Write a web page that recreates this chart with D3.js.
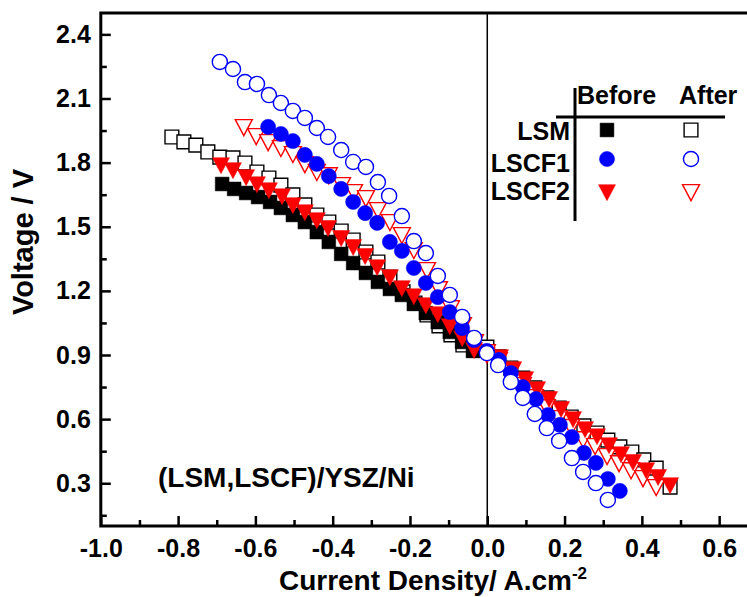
<!DOCTYPE html>
<html>
<head>
<meta charset="utf-8">
<script src="https://cdn.jsdelivr.net/npm/d3@7"></script>
<style>
  body { margin: 0; background: #fff; }
  text { font-family: "Liberation Sans", Arial, sans-serif; font-weight: bold; }
</style>
</head>
<body>
<div id="chart"></div>
<script>
// current density (A/cm2), voltage (V)
var lsmBefore = [[-0.686,1.700],[-0.655,1.677],[-0.624,1.658],[-0.593,1.639],[-0.562,1.616],[-0.534,1.588],
  [-0.503,1.555],[-0.472,1.522],[-0.441,1.475],[-0.410,1.429],[-0.378,1.373],[-0.347,1.330],[-0.314,1.284],
  [-0.283,1.242],[-0.252,1.209],[-0.221,1.181],[-0.190,1.139],[-0.159,1.096],[-0.128,1.054],[-0.097,1.008],
  [-0.065,0.961],[-0.037,0.919]];
var lsmAfter = [[-0.816,1.920],[-0.785,1.897],[-0.754,1.882],[-0.723,1.850],[-0.692,1.826],[-0.658,1.822],
  [-0.627,1.798],[-0.596,1.756],[-0.565,1.728],[-0.534,1.695],[-0.503,1.649],[-0.472,1.602],[-0.441,1.555],
  [-0.410,1.522],[-0.378,1.480],[-0.347,1.438],[-0.314,1.382],[-0.283,1.335],[-0.252,1.265],[-0.218,1.195],
  [-0.187,1.143],[-0.156,1.087],[-0.125,1.036],[-0.094,0.994],[-0.063,0.947],[-0.034,0.923],[-0.001,0.937],
  [0.030,0.891],[0.061,0.839],[0.092,0.792],[0.123,0.746],[0.154,0.699],[0.186,0.652],[0.217,0.610],
  [0.250,0.568],[0.284,0.535],[0.312,0.502],[0.343,0.470],[0.374,0.446],[0.405,0.409],[0.437,0.371],[0.473,0.282]];
var lscf1Before = [[-0.567,1.967],[-0.534,1.934],[-0.503,1.901],[-0.472,1.836],[-0.441,1.794],[-0.410,1.737],
  [-0.378,1.677],[-0.347,1.616],[-0.316,1.564],[-0.285,1.518],[-0.252,1.429],[-0.221,1.387],[-0.190,1.307],
  [-0.159,1.237],[-0.128,1.171],[-0.097,1.101],[-0.065,1.026],[-0.034,0.970],[-0.001,0.919],[0.030,0.877],
  [0.061,0.816],[0.092,0.750],[0.126,0.694],[0.157,0.619],[0.188,0.573],[0.219,0.516],[0.250,0.442],
  [0.281,0.395],[0.312,0.320],[0.343,0.264]];
var lscf1After = [[-0.692,2.271],[-0.658,2.238],[-0.627,2.177],[-0.596,2.168],[-0.565,2.116],[-0.534,2.079],
  [-0.503,2.042],[-0.472,2.009],[-0.441,1.962],[-0.412,1.920],[-0.378,1.859],[-0.347,1.803],[-0.314,1.780],
  [-0.283,1.709],[-0.254,1.644],[-0.221,1.550],[-0.190,1.433],[-0.159,1.377],[-0.128,1.270],[-0.097,1.181],
  [-0.065,1.078],[-0.034,0.980],[-0.001,0.909],[0.028,0.853],[0.061,0.774],[0.092,0.699],[0.123,0.624],
  [0.154,0.558],[0.186,0.498],[0.219,0.418],[0.248,0.353],[0.281,0.301],[0.312,0.222]];
var lscf2Before = [[-0.689,1.798],[-0.658,1.775],[-0.624,1.742],[-0.596,1.709],[-0.565,1.681],[-0.531,1.653],
  [-0.503,1.611],[-0.472,1.578],[-0.441,1.541],[-0.412,1.504],[-0.378,1.457],[-0.347,1.415],[-0.316,1.373],
  [-0.285,1.321],[-0.252,1.274],[-0.221,1.223],[-0.190,1.185],[-0.159,1.143],[-0.128,1.101],[-0.097,1.045],
  [-0.065,0.989],[-0.034,0.933],[-0.001,0.909],[0.033,0.900],[0.067,0.844],[0.098,0.797],[0.129,0.750],
  [0.160,0.704],[0.191,0.657],[0.222,0.610],[0.253,0.563],[0.284,0.530],[0.315,0.488],[0.346,0.446],
  [0.377,0.409],[0.411,0.371],[0.442,0.339],[0.473,0.301]];
var lscf2After = [[-0.630,1.976],[-0.598,1.934],[-0.567,1.906],[-0.534,1.878],[-0.503,1.850],[-0.472,1.803],
  [-0.441,1.766],[-0.410,1.751],[-0.376,1.705],[-0.345,1.672],[-0.314,1.644],[-0.283,1.588],[-0.252,1.532],
  [-0.221,1.471],[-0.190,1.401],[-0.156,1.307],[-0.125,1.218],[-0.094,1.129],[-0.063,1.050],[-0.032,0.970],
  [-0.001,0.923],[0.030,0.886],[0.061,0.830],[0.092,0.769],[0.123,0.713],[0.154,0.666],[0.186,0.615],
  [0.217,0.573],[0.248,0.516],[0.279,0.484],[0.310,0.437],[0.341,0.404],[0.372,0.371],[0.403,0.334],[0.437,0.292]];

var xTicks = [-1.0, -0.8, -0.6, -0.4, -0.2, 0.0, 0.2, 0.4, 0.6];
var xMinor = [-0.9, -0.7, -0.5, -0.3, -0.1, 0.1, 0.3, 0.5];
var yTicks = [0.3, 0.6, 0.9, 1.2, 1.5, 1.8, 2.1, 2.4];
var yMinor = [0.15, 0.45, 0.75, 1.05, 1.35, 1.65, 1.95, 2.25];
var samples = ["LSM", "LSCF1", "LSCF2"];
var states = ["Before", "After"];

var width = 747;
var height = 597;

var svg = d3.select("#chart").append("svg")
          .attr("width", width)
          .attr("height", height);

var x = d3.scaleLinear().domain([-1.0, 0.7]).range([100.8, 757.8]);
var y = d3.scaleLinear().domain([0.1, 2.5]).range([526, 13]);

function triDown(w, h) {
  return "M" + (-w/2) + "," + (-h/3) + "L" + (w/2) + "," + (-h/3) + "L0," + (2*h/3) + "Z";
}

var marks = {
  square: d3.symbol(d3.symbolSquare, 190)(),
  circle: d3.symbol(d3.symbolCircle, 180)(),
  tri: triDown(17, 16)
};

// series in drawing order, bottom first
var series = [
  {data: lsmAfter, shape: "square", color: "black", open: true},
  {data: lsmBefore, shape: "square", color: "black", open: false},
  {data: lscf2After, shape: "tri", color: "#ff0000", open: true},
  {data: lscf2Before, shape: "tri", color: "#ff0000", open: false},
  {data: lscf1Before, shape: "circle", color: "#0000ff", open: false},
  {data: lscf1After, shape: "circle", color: "#0000ff", open: true}
];

// zero line
svg.append("line")
   .attr("x1", x(0)).attr("x2", x(0))
   .attr("y1", y(2.5)).attr("y2", y(0.1))
   .attr("stroke", "black").attr("stroke-width", 1.5);

function styleMark(sel, s) {
  sel.attr("d", marks[s.shape])
     .attr("fill", s.open ? "white" : s.color)
     .attr("stroke", s.color)
     .attr("stroke-width", s.open ? 1.4 : 0.5);
}

series.forEach(function(s) {
  svg.append("g").selectAll("path")
     .data(s.data)
     .enter().append("path")
     .attr("transform", function(d) { return "translate(" + x(d[0]) + "," + y(d[1]) + ")"; })
     .call(styleMark, s);
});

// axes, ticks inside
var xAxis = svg.append("g").attr("transform", "translate(0," + y(0.1) + ")")
  .call(d3.axisBottom(x).tickValues(xTicks).tickSize(-10).tickPadding(13)
        .tickFormat(function(d) { return d.toFixed(1); }));
svg.append("g").attr("transform", "translate(0," + y(0.1) + ")")
  .call(d3.axisBottom(x).tickValues(xMinor).tickSize(-6).tickFormat(""));

var yAxis = svg.append("g").attr("transform", "translate(" + x(-1.0) + ",0)")
  .call(d3.axisLeft(y).tickValues(yTicks).tickSize(-10).tickPadding(10)
        .tickFormat(function(d) { return d.toFixed(1); }));
svg.append("g").attr("transform", "translate(" + x(-1.0) + ",0)")
  .call(d3.axisLeft(y).tickValues(yMinor).tickSize(-6).tickFormat(""));

svg.selectAll(".domain").remove();
svg.selectAll(".tick line").attr("stroke", "black").attr("stroke-width", 2.5);
svg.selectAll(".tick text").attr("fill", "black").style("font-size", "25px");

// frame: left, bottom, top
svg.append("path")
   .attr("d", "M" + x(0.7) + "," + y(2.5) + "H" + x(-1.0) + "V" + y(0.1) + "H" + x(0.7))
   .attr("fill", "none").attr("stroke", "black").attr("stroke-width", 3);

// titles
var xt = svg.append("text")
   .attr("x", 433).attr("y", 590)
   .attr("text-anchor", "middle")
   .style("font-size", "28px")
   .text("Current Density/ A.cm");
xt.append("tspan").attr("dy", -11).style("font-size", "17px").text("-2");

svg.append("text")
   .attr("transform", "translate(33,242) rotate(-90)")
   .attr("text-anchor", "middle")
   .style("font-size", "29px")
   .text("Voltage / V");

svg.append("text")
   .attr("x", 158).attr("y", 487)
   .style("font-size", "28px")
   .text("(LSM,LSCF)/YSZ/Ni");

// legend table
var leg = svg.append("g");
leg.append("line").attr("x1", 575).attr("x2", 575).attr("y1", 88).attr("y2", 221)
   .attr("stroke", "black").attr("stroke-width", 3);
leg.append("line").attr("x1", 556).attr("x2", 725).attr("y1", 117).attr("y2", 117)
   .attr("stroke", "black").attr("stroke-width", 3);

var colX = [607, 691];
var rowY = [130, 159, 190];
var headX = [577, 679];
var rowBase = [140, 172, 200];

states.forEach(function(st, j) {
  leg.append("text").attr("x", headX[j]).attr("y", 104)
     .style("font-size", "25px").text(st);
});

samples.forEach(function(name, i) {
  leg.append("text").attr("x", 570).attr("y", rowBase[i])
     .attr("text-anchor", "end").style("font-size", "25px").text(name);
});

var legMarks = [
  {shape: "square", color: "black"},
  {shape: "circle", color: "#0000ff"},
  {shape: "tri", color: "#ff0000"}
];
legMarks.forEach(function(m, i) {
  states.forEach(function(st, j) {
    leg.append("path")
       .attr("transform", "translate(" + colX[j] + "," + rowY[i] + ")")
       .call(styleMark, {shape: m.shape, color: m.color, open: j == 1});
  });
});
</script>
</body>
</html>
